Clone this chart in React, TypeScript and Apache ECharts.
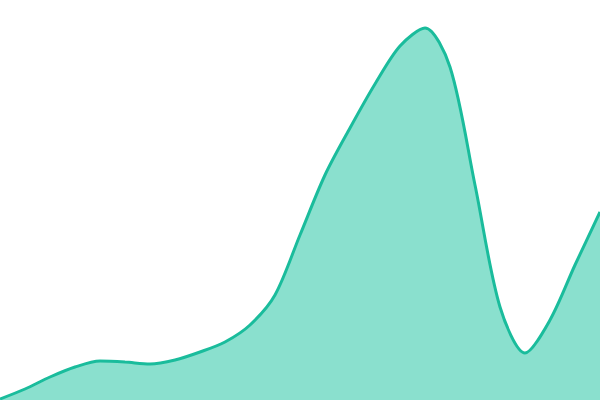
import { useEffect, useRef } from 'react';
import * as echarts from 'echarts';

// x positions (0..600) and values (0..400)
const xs = [0, 25, 50, 75, 100, 125, 150, 175, 200, 225, 250, 275, 300, 325, 350, 375, 400, 425, 450, 475, 500, 525, 550, 575, 600];
const values = [1, 11, 23, 33, 39, 38, 36, 40, 48, 58, 75, 105, 165, 225, 272, 316, 354, 372, 333, 215, 93, 47, 80, 135, 188];

export default function App() {
  const chartRef = useRef<HTMLDivElement>(null);

  useEffect(() => {
    if (!chartRef.current) return;
    const chart = echarts.init(chartRef.current, undefined, { renderer: 'svg' });

    chart.setOption({
      animation: false,
      grid: { top: 0, right: 0, bottom: 0, left: 0 },
      xAxis: { type: 'value', min: 0, max: 600, show: false },
      yAxis: { type: 'value', min: 0, max: 400, show: false },
      series: [{
        type: 'line',
        data: xs.map((x, i) => [x, values[i]]),
        smooth: 0.3,
        symbol: 'none',
        lineStyle: { color: '#1abc9c', width: 3 },
        areaStyle: { color: '#8ae0ce', opacity: 1 },
      }],
    });

    return () => chart.dispose();
  }, []);

  return (
    <div
      ref={chartRef}
      style={{ position: 'absolute', left: 0, top: 0, width: 600, height: 400 }}
    ></div>
  );
}
